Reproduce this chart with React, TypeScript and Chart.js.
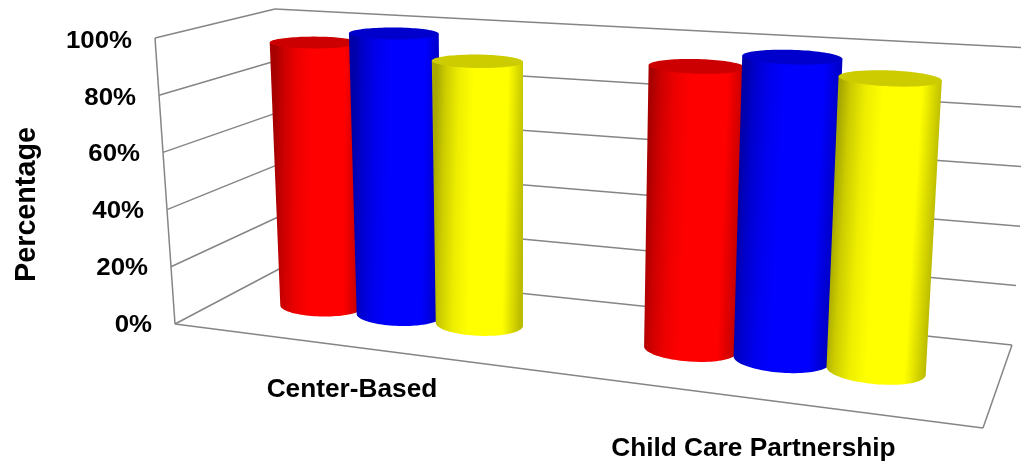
import React, { useEffect, useRef } from "react";
import { Chart, registerables } from "chart.js";

Chart.register(...registerables);

const categories = ["Center-Based", "Child Care Partnership"];
const redValues = [95, 95];
const blueValues = [100, 100];
const yellowValues = [92, 95];
const seriesColors = ["#ff0000", "#0000ff", "#ffff00"];
const axisTitle = "Percentage";

type Pt = [number, number];

// Corners of the box floor and ceiling: front-left, front-right, back-right, back-left.
const floorQuad: Pt[] = [[175, 324], [983, 428], [1012, 345], [281, 268]];
const ceilingQuad: Pt[] = [[155, 38], [1003, 95], [1032, 48], [275, 9]];
const cylinderDepthCentre = 0.52;
const cylinderDepthRadius = 0.165;
const perspective = 1.18;
const FONT = '"Liberation Sans", Arial, sans-serif';
const GRID = "#858585";

// Maps (u along the categories, w into the depth) to the page at height v (0 = floor, 1 = ceiling).
function planeAt(v: number) {
  const q = floorQuad.map((p, i) => [
    p[0] + (ceilingQuad[i][0] - p[0]) * v,
    p[1] + (ceilingQuad[i][1] - p[1]) * v,
  ]);
  return (u: number, w: number): Pt => {
    const s = u / (u + perspective * (1 - u));
    const fx = q[0][0] + (q[1][0] - q[0][0]) * s, fy = q[0][1] + (q[1][1] - q[0][1]) * s;
    const bx = q[3][0] + (q[2][0] - q[3][0]) * s, by = q[3][1] + (q[2][1] - q[3][1]) * s;
    return [fx + (bx - fx) * w, fy + (by - fy) * w];
  };
}

function shade(hex: string, f: number) {
  const n = parseInt(hex.slice(1), 16);
  const c = [(n >> 16) & 255, (n >> 8) & 255, n & 255].map((k) => Math.round(k * f));
  return `rgb(${c[0]},${c[1]},${c[2]})`;
}

function segment(ctx: CanvasRenderingContext2D, a: Pt, b: Pt) {
  ctx.beginPath();
  ctx.moveTo(a[0], a[1]);
  ctx.lineTo(b[0], b[1]);
  ctx.stroke();
}

function stretchedText(
  ctx: CanvasRenderingContext2D, text: string, x: number, y: number,
  size: number, sx: number, align: CanvasTextAlign, rot = 0,
) {
  ctx.save();
  ctx.translate(x, y);
  ctx.rotate(rot);
  ctx.scale(sx, 1);
  ctx.font = `bold ${size}px ${FONT}`;
  ctx.fillStyle = "#000";
  ctx.textAlign = align;
  ctx.textBaseline = "middle";
  ctx.fillText(text, 0, 0);
  ctx.restore();
}

function circlePoints(u0: number, ru: number, v: number): Pt[] {
  const plane = planeAt(v);
  const pts: Pt[] = [];
  for (let i = 0; i < 96; i++) {
    const t = (i / 96) * Math.PI * 2;
    pts.push(plane(u0 + ru * Math.cos(t), cylinderDepthCentre + cylinderDepthRadius * Math.sin(t)));
  }
  return pts;
}

function drawCylinder(ctx: CanvasRenderingContext2D, u0: number, ru: number, v: number, color: string) {
  const top = circlePoints(u0, ru, v);
  const bottom = circlePoints(u0, ru, 0);
  const extreme = (pts: Pt[], sign: number) =>
    pts.reduce((best, p, i) => (sign * p[0] > sign * pts[best][0] ? i : best), 0);
  const bl = extreme(bottom, -1), br = extreme(bottom, 1);
  const tl = extreme(top, -1), tr = extreme(top, 1);

  const midL: Pt = [(bottom[bl][0] + top[tl][0]) / 2, (bottom[bl][1] + top[tl][1]) / 2];
  const midR: Pt = [(bottom[br][0] + top[tr][0]) / 2, (bottom[br][1] + top[tr][1]) / 2];
  const grad = ctx.createLinearGradient(midL[0], midL[1], midR[0], midR[1]);
  grad.addColorStop(0, shade(color, 0.66));
  grad.addColorStop(0.1, shade(color, 0.8));
  grad.addColorStop(0.25, shade(color, 0.93));
  grad.addColorStop(0.42, shade(color, 1));
  grad.addColorStop(0.8, shade(color, 1));
  grad.addColorStop(1, shade(color, 0.74));

  ctx.beginPath();
  ctx.moveTo(top[tl][0], top[tl][1]);
  ctx.lineTo(bottom[bl][0], bottom[bl][1]);
  // Front arc of the base: from the left extreme round the side nearest the viewer.
  const n = bottom.length;
  const lowest = extreme(bottom.map((p) => [p[1], p[0]] as Pt), 1);
  const forward = (lowest - bl + n) % n < (br - bl + n) % n;
  const step = forward ? 1 : n - 1;
  for (let i = bl; i !== br; i = (i + step) % n) ctx.lineTo(bottom[i][0], bottom[i][1]);
  ctx.lineTo(bottom[br][0], bottom[br][1]);
  ctx.lineTo(top[tr][0], top[tr][1]);
  ctx.closePath();
  ctx.fillStyle = grad;
  ctx.fill();

  // Whole top face, covering the rim of the side.
  ctx.beginPath();
  top.forEach((p, i) => (i ? ctx.lineTo(p[0], p[1]) : ctx.moveTo(p[0], p[1])));
  ctx.closePath();
  ctx.fillStyle = shade(color, 0.8);
  ctx.fill();
}

const box3d = {
  id: "box3d",
  beforeDatasetsDraw(chart: any) {
    const { ctx, chartArea: area, scales } = chart;
    const y = scales.y, x = scales.x;
    const toV = (py: number) => (area.bottom - py) / (area.bottom - area.top);
    const toU = (px: number) => (px - area.left) / (area.right - area.left);

    ctx.save();
    ctx.strokeStyle = GRID;
    ctx.lineWidth = 1.5;
    // Wall grid lines, one per value tick.
    y.ticks.forEach((tick: any, i: number) => {
      const plane = planeAt(toV(y.getPixelForTick(i)));
      segment(ctx, plane(0, 0), plane(0, 1));
      segment(ctx, plane(0, 1), plane(1, 1));
    });
    // Front edges of the floor and the front vertical edge.
    const floor = planeAt(0);
    segment(ctx, floor(0, 0), floor(1, 0));
    segment(ctx, floor(1, 0), floor(1, 1));
    segment(ctx, floor(0, 0), planeAt(1)(0, 0));

    // Cylinders, series by series, later series in front.
    chart.data.datasets.forEach((_: any, di: number) => {
      chart.getDatasetMeta(di).data.forEach((bar: any) => {
        drawCylinder(ctx, toU(bar.x), bar.width / 2 / (area.right - area.left), toV(bar.y), bar.options.backgroundColor);
      });
    });

    // Value labels follow the slanted front edge.
    y.ticks.forEach((tick: any, i: number) => {
      const py = y.getPixelForTick(i);
      const edge = planeAt(toV(py))(0, 0);
      stretchedText(ctx, tick.label, edge[0] - 23, py, 24.5, 1.055, "right");
    });
    // Category labels sit under the front floor edge.
    x.ticks.forEach((tick: any, i: number) => {
      const p = floor(toU(x.getPixelForTick(i)), 0);
      stretchedText(ctx, String(categories[tick.value]), p[0] - 1 - i * 0.5, p[1] + 43 + i * 7, 25, 1.05, "center");
    });
    stretchedText(ctx, axisTitle, 26.5, 204.5, 29, 0.99, "center", -Math.PI / 2);
    ctx.restore();
    return false;
  },
};

export default function App() {
  const ref = useRef<HTMLCanvasElement>(null);
  useEffect(() => {
    const chart = new Chart(ref.current!, {
      type: "bar",
      data: {
        labels: categories,
        datasets: [redValues, blueValues, yellowValues].map((data, i) => ({
          data,
          backgroundColor: seriesColors[i],
          categoryPercentage: 0.67,
          barPercentage: 1.02,
        })),
      },
      options: {
        responsive: false,
        animation: false,
        layout: { padding: { left: 155, top: 41, right: 0, bottom: 137 } },
        plugins: { legend: { display: false }, tooltip: { enabled: false } },
        scales: {
          x: { display: false },
          y: {
            display: false,
            min: 0,
            max: 100,
            ticks: { stepSize: 20, callback: (v: any) => `${v}%` },
          },
        },
      },
      plugins: [box3d],
    } as any);
    return () => chart.destroy();
  }, []);
  return (
    <div style={{ position: "absolute", left: 0, top: 0, width: 1021, height: 462 }}>
      <canvas ref={ref} width={1021} height={462} style={{ display: "block" }} />
    </div>
  );
}
